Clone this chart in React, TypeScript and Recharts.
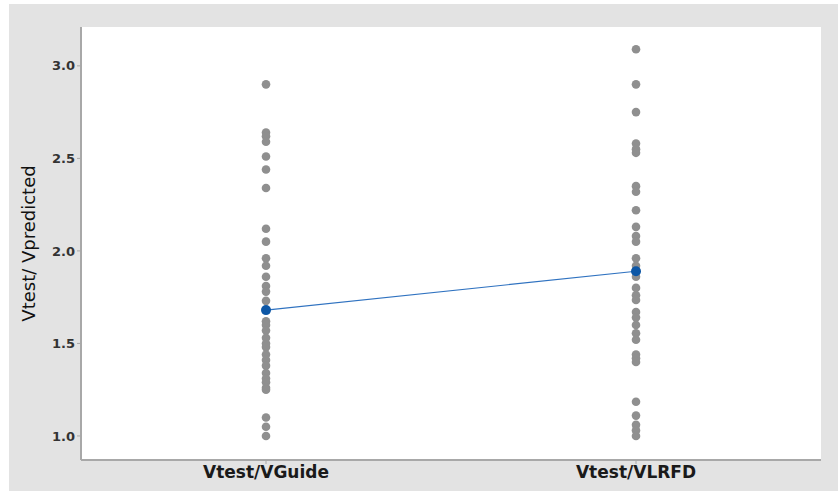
import {
  ScatterChart,
  Scatter,
  XAxis,
  YAxis,
  CartesianGrid,
} from 'recharts';

const categories = ['Vtest/VGuide', 'Vtest/VLRFD'];

const guideValues = [
  2.9, 2.64, 2.62, 2.59, 2.51, 2.44, 2.34, 2.12, 2.05, 1.96, 1.92, 1.86, 1.81, 1.78, 1.73,
  1.62, 1.6, 1.57, 1.53, 1.5, 1.48, 1.44, 1.41, 1.38, 1.34, 1.31, 1.29, 1.26, 1.25, 1.1,
  1.05, 1.0,
];

const lrfdValues = [
  3.09, 2.9, 2.75, 2.58, 2.55, 2.53, 2.35, 2.32, 2.22, 2.13, 2.08, 2.05, 1.96, 1.92, 1.89,
  1.86, 1.8, 1.76, 1.735, 1.67, 1.64, 1.6, 1.555, 1.52, 1.44, 1.42, 1.4, 1.185, 1.11, 1.06,
  1.03, 1.0,
];

const meanValues = [1.68, 1.89];

const yTicks = [1.0, 1.5, 2.0, 2.5, 3.0];

const columns = [guideValues, lrfdValues];
const pointData = columns.flatMap((vals, i) => vals.map((v) => ({ x: i + 0.5, y: v })));
const meanData = meanValues.map((v, i) => ({ x: i + 0.5, y: v }));

const FONT = '"DejaVu Sans", "Open Sans", sans-serif';

const GrayDot = (props: any) => (
  <circle cx={props.cx} cy={props.cy} r={4.3} fill="#8f8f8f" />
);

const MeanDot = (props: any) => (
  <circle cx={props.cx} cy={props.cy} r={5} fill="#0d57a6" />
);

export default function App() {
  return (
    <div
      style={{
        position: 'absolute',
        left: 9,
        top: 4,
        width: 829,
        height: 487,
        background: '#e3e3e3',
      }}
    >
      <ScatterChart
        width={829}
        height={487}
        margin={{ top: 23, right: 17, left: 0, bottom: 0 }}
      >
        <CartesianGrid
          horizontal={false}
          vertical={false}
          fill="#ffffff"
          stroke="#a8a8a8"
        />
        <XAxis
          type="number"
          dataKey="x"
          domain={[0, 2]}
          ticks={[0.5, 1.5]}
          tickFormatter={(v: number) => categories[Math.floor(v)]}
          height={31}
          tickSize={4}
          axisLine={{ stroke: '#a8a8a8', strokeWidth: 2 }}
          tickLine={{ stroke: '#a8a8a8' }}
          tick={{ fontSize: 17, fontWeight: 700, fill: '#1a1a1a', fontFamily: FONT }}
        />
        <XAxis
          xAxisId="top"
          orientation="top"
          type="number"
          domain={[0, 2]}
          height={0}
          tick={false}
          tickLine={false}
          axisLine={{ stroke: '#a8a8a8', strokeWidth: 2 }}
        />
        <YAxis
          type="number"
          dataKey="y"
          domain={[0.87, 3.21]}
          ticks={yTicks}
          tickFormatter={(v: number) => v.toFixed(1)}
          width={72}
          tickSize={4}
          axisLine={{ stroke: '#a8a8a8', strokeWidth: 2 }}
          tickLine={{ stroke: '#a8a8a8' }}
          tick={{ fontSize: 13, fontWeight: 700, fill: '#333', fontFamily: FONT }}
          label={{
            value: 'Vtest/ Vpredicted',
            angle: -90,
            position: 'insideLeft',
            offset: 20,
            style: {
              fontSize: 18,
              fill: '#111',
              fontFamily: FONT,
              textAnchor: 'middle',
            },
          }}
        />
        <YAxis
          yAxisId="right"
          orientation="right"
          type="number"
          domain={[0.87, 3.21]}
          width={0}
          tick={false}
          tickLine={false}
          axisLine={{ stroke: '#a8a8a8', strokeWidth: 2 }}
        />
        <Scatter data={pointData} shape={GrayDot} isAnimationActive={false} />
        <Scatter
          data={meanData}
          shape={MeanDot}
          line={{ stroke: '#2f72c0', strokeWidth: 1.2 }}
          isAnimationActive={false}
        />
      </ScatterChart>
    </div>
  );
}
